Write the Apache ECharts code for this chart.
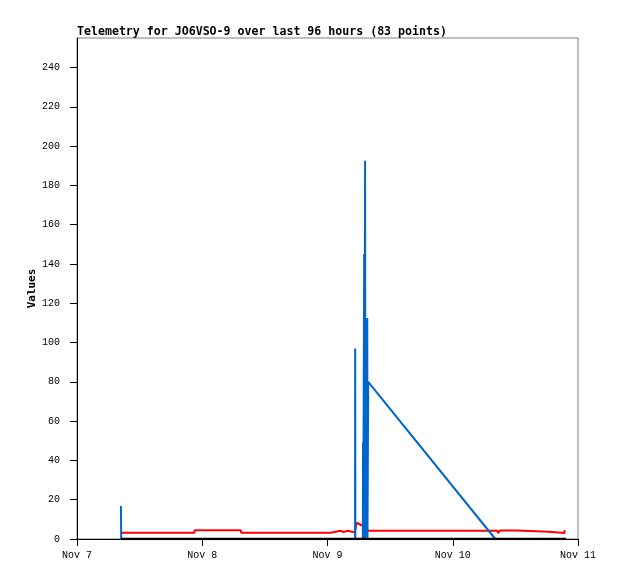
<!DOCTYPE html>
<html>
<head>
<meta charset="utf-8">
<script src="https://cdn.jsdelivr.net/npm/echarts@6/dist/echarts.min.js"></script>
<style>html,body{margin:0;padding:0;background:#fff}#c{width:618px;height:579px}</style>
</head>
<body>
<div id="c"></div>
<script>
// x values are hours since Nov 7 00:00
var titleText = 'Telemetry for JO6VSO-9 over last 96 hours (83 points)';
var xTickLabels = ['Nov 7', 'Nov 8', 'Nov 9', 'Nov 10', 'Nov 11'];
var yTicks = [0, 20, 40, 60, 80, 100, 120, 140, 160, 180, 200, 220, 240];

var redSeries = [
  [8.45, 3.2], [22.5, 3.2], [22.55, 4.4], [31.4, 4.4], [31.45, 3.2],
  [48.6, 3.2], [48.65, 4.2], [50.5, 4.2], [50.55, 3.5], [51.1, 3.5],
  [51.15, 4.2], [51.8, 4.2], [51.85, 3.5], [53.2, 3.4], [53.6, 8.3],
  [54.5, 7.0], [54.7, 8.0], [55.0, 7.6], [55.7, 4.2], [80.6, 4.2],
  [80.65, 3.0], [81.0, 3.0], [81.05, 4.3], [84.3, 4.3], [84.35, 3.7],
  [90.4, 3.7], [90.45, 3.1], [93.4, 3.1], [93.45, 4.5]
];
var blueSeries = [
  [8.42, 16.8], [8.47, 0], [53.28, 0], [53.3, 97], [53.34, 0],
  [54.78, 0], [54.8, 49], [54.84, 0], [55.0, 0], [55.03, 145], [55.07, 0],
  [55.18, 0], [55.2, 192.5], [55.26, 0],
  [55.6, 0], [55.62, 112.5], [55.66, 0], [55.8, 80], [80.16, 0], [93.7, 0]
];
var blackSeries = [
  [8.4, 0], [30, 0], [55, 0], [80, 0], [93.7, 0]
];

var chart = echarts.init(document.getElementById('c'), null, {renderer: 'canvas'});
var mono = 'Liberation Mono';
chart.setOption({
  animation: false,
  backgroundColor: '#ffffff',
  title: {
    text: titleText,
    left: 77, top: 26, padding: 0,
    textStyle: {fontFamily: 'DejaVu Sans Mono', fontWeight: 'bold', fontSize: 11.6, color: '#000'}
  },
  grid: {left: 77, right: 40, top: 38, bottom: 40, show: true, borderColor: '#808080', borderWidth: 1, backgroundColor: 'transparent'},
  xAxis: {
    type: 'value', min: 0, max: 96, interval: 24,
    axisLine: {show: true, lineStyle: {color: '#000', width: 1}},
    axisTick: {show: true, length: 7, inside: false, lineStyle: {color: '#000'}},
    axisLabel: {
      margin: 11, color: '#000', fontFamily: mono, fontSize: 10,
      formatter: function (v) { return xTickLabels[Math.round(v / 24)] || ''; }
    },
    splitLine: {show: false}
  },
  yAxis: {
    type: 'value', min: 0, max: 255, interval: 20,
    name: 'Values', nameLocation: 'middle', nameRotate: 90, nameGap: 39, nameMoveOverlap: false,
    nameTextStyle: {fontFamily: 'DejaVu Sans Mono', fontWeight: 'bold', fontSize: 11, color: '#000'},
    axisLine: {show: true, lineStyle: {color: '#000', width: 1}},
    axisTick: {show: true, length: 7, inside: false, customValues: yTicks, lineStyle: {color: '#000'}},
    axisLabel: {
      margin: 17, color: '#000', fontFamily: mono, fontSize: 10, customValues: yTicks,
      formatter: function (v) { return (v % 20 === 0) ? String(v) : ''; }
    },
    splitLine: {show: false}
  },
  series: [
    {type: 'line', data: redSeries, showSymbol: false, lineStyle: {color: '#ff0000', width: 2}, itemStyle: {color: '#ff0000'}, z: 2},
    {type: 'line', data: blueSeries, showSymbol: false, lineStyle: {color: '#0066cc', width: 2}, itemStyle: {color: '#0066cc'}, z: 3},
    {type: 'line', data: blackSeries, showSymbol: false, lineStyle: {color: '#000000', width: 2.5}, itemStyle: {color: '#000'}, z: 4}
  ]
});
</script>
</body>
</html>
